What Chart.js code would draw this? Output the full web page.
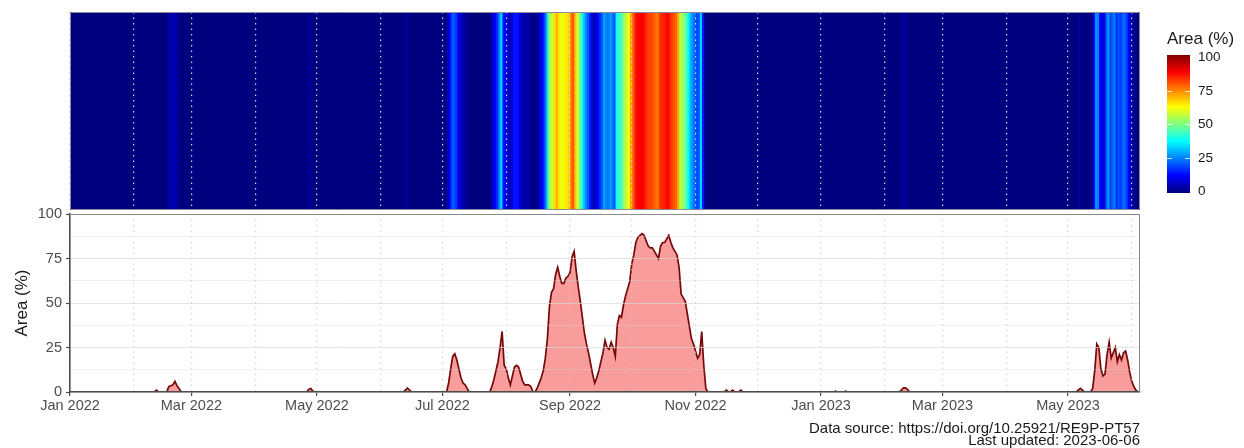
<!DOCTYPE html>
<html>
<head>
<meta charset="utf-8">
<script src="https://cdn.jsdelivr.net/npm/chart.js@4.4.0/dist/chart.umd.min.js"></script>
<style>
	html, body { margin: 0; padding: 0; background: #fff; }
	body { width: 1244px; height: 448px; position: relative; overflow: hidden; font-family: "Liberation Sans", Arial, sans-serif; color: #1a1a1a; }
	.layer { position: absolute; left: 0; top: 0; }
	#legend-title { position: absolute; left: 1167px; top: 29px; font-size: 17px; line-height: 20px; white-space: nowrap; }
	#legend-bar { position: absolute; left: 1167px; top: 55px; width: 23px; height: 138px; }
	.legend-tick { position: absolute; width: 5px; height: 1px; background: rgba(255,255,255,0.8); }
	.legend-label { position: absolute; left: 1198px; font-size: 13.5px; line-height: 16px; color: #1a1a1a; }
	#caption { position: absolute; right: 104px; top: 422px; font-size: 15px; line-height: 12.4px; text-align: right; white-space: nowrap; }
</style>
</head>
<body>
<canvas id="heat" class="layer" width="1244" height="448"></canvas>
<canvas id="area" class="layer" width="1244" height="448"></canvas>
<div id="legend-title">Area (%)</div>
<div id="legend-bar"></div>
<div id="caption"></div>
<script>
(function() {
	'use strict';

	// day 0 = 2022-01-01, last day = 2023-06-05
	const firstDate = [2022, 0, 1];
	const totalDays = 521;

	// non-zero stretches, values in %
	const episodeStart = [42, 47, 116, 163, 183, 204, 226, 319, 322, 326, 372, 377, 404, 490, 496];
	const episodeValues = [
		[1],
		[0, 3, 3.5, 4, 6, 3.5, 2, 0],
		[1.5, 2, 0.5],
		[1, 2.3, 1],
		[0, 5, 13, 20, 21.5, 18, 13, 8, 5, 4, 2, 0],
		[0, 3, 7, 12, 17, 25, 34, 15, 13, 8, 4, 9, 14, 15, 14, 10, 6, 4, 4, 4, 3, 0, 0],
		[0, 2, 5, 8, 12, 19, 30, 48, 56, 58, 66, 70, 65, 61, 61, 64, 65, 67, 76, 79,
		 68, 59, 51, 42, 33, 27, 22, 16, 10, 5, 8, 12, 17, 22, 29, 25, 24, 28, 25, 20,
		 38, 43, 42, 49, 54, 58, 62, 72, 77, 84, 87, 88, 89, 88, 85, 82, 81, 81, 79, 77,
		 75, 82, 84, 84, 86, 88, 84, 81, 79, 77, 70, 55, 53, 51, 44, 37, 30, 27, 23, 19,
		 21, 34, 15, 2, 0],
		[1],
		[1],
		[1],
		[0.5],
		[0.5],
		[1, 2.3, 2.3, 1.5],
		[1, 2, 1],
		[0, 2, 12, 27, 25, 13, 9, 10, 21, 28, 19, 22, 25, 17, 21, 18, 22, 23, 18, 11, 6, 3, 1, 0]
	];

	const xTickLabels = ['Jan 2022', 'Mar 2022', 'May 2022', 'Jul 2022', 'Sep 2022', 'Nov 2022', 'Jan 2023', 'Mar 2023', 'May 2023'];
	const yTicks = [0, 12.5, 25, 37.5, 50, 62.5, 75, 87.5, 100];
	const legendTicks = [0, 25, 50, 75, 100];
	const jetStops = ['#00007F', '#0000FF', '#007FFF', '#00FFFF', '#7FFF7F', '#FFFF00', '#FF7F00', '#FF0000', '#7F0000'];
	const captionLines = ['Data source: https://doi.org/10.25921/RE9P-PT57', 'Last updated: 2023-06-06'];

	Chart.defaults.font.family = '"Liberation Sans", Arial, sans-serif';

	const daily = new Array(totalDays).fill(0);
	episodeStart.forEach((s, k) => {
		episodeValues[k].forEach((v, j) => { daily[s + j] = v; });
	});

	// month starts as day offsets
	const t0 = Date.UTC(firstDate[0], firstDate[1], firstDate[2]);
	const monthStarts = [];
	const labelFor = {};
	for (let m = 0; m < 18; m++) {
		const d = Math.round((Date.UTC(2022, m, 1) - t0) / 86400000);
		monthStarts.push(d);
		if (m % 2 === 0) labelFor[d] = xTickLabels[m / 2];
	}

	function hexToRgb(h) {
		return [parseInt(h.slice(1, 3), 16), parseInt(h.slice(3, 5), 16), parseInt(h.slice(5, 7), 16)];
	}
	function jet(t) {
		t = Math.max(0, Math.min(1, t));
		const p = t * (jetStops.length - 1);
		const i = Math.min(jetStops.length - 2, Math.floor(p));
		const f = p - i;
		const a = hexToRgb(jetStops[i]), b = hexToRgb(jetStops[i + 1]);
		const c = a.map((v, k) => Math.round(v + (b[k] - v) * f));
		return 'rgb(' + c.join(',') + ')';
	}

	const panelBox = {
		id: 'panelBox',
		afterDraw(chart, args, opts) {
			const a = chart.chartArea, ctx = chart.ctx;
			ctx.save();
			ctx.strokeStyle = opts.color || '#8a8a8a';
			ctx.lineWidth = 1;
			ctx.beginPath();
			if (opts.full) {
				ctx.rect(a.left + 0.5, a.top + 0.5, a.right - a.left - 1, a.bottom - a.top - 1);
			} else {
				ctx.moveTo(a.left, a.top + 0.5);
				ctx.lineTo(a.right - 0.5, a.top + 0.5);
				ctx.lineTo(a.right - 0.5, a.bottom);
			}
			ctx.stroke();
			ctx.restore();
		}
	};

	// top panel: one coloured column per day
	new Chart(document.getElementById('heat'), {
		type: 'bar',
		data: {
			datasets: [{
				data: daily.map((v, d) => ({ x: d, y: 1 })),
				backgroundColor: daily.map(v => jet(v / 100)),
				borderWidth: 0,
				barThickness: 3
			}]
		},
		options: {
			responsive: false,
			animation: false,
			events: [],
			layout: { padding: { left: 70, right: 104, top: 12, bottom: 238 } },
			plugins: { legend: { display: false }, tooltip: { enabled: false }, panelBox: { full: true, color: '#8a8a9a' } },
			scales: {
				x: {
					type: 'linear', min: 0, max: 520, offset: false,
					afterBuildTicks: s => { s.ticks = monthStarts.map(v => ({ value: v })); },
					afterFit: s => { s.height = 0; },
					ticks: { display: false },
					grid: { offset: false, drawTicks: false, color: '#d4d4dc', lineWidth: 1.2, z: 1 },
					border: { display: false, dash: [1.5, 4] }
				},
				y: { display: false, min: 0, max: 1 }
			}
		},
		plugins: [panelBox]
	});

	// bottom panel: area chart
	new Chart(document.getElementById('area'), {
		type: 'line',
		data: {
			datasets: [{
				data: daily.map((v, d) => ({ x: d, y: v })),
				borderColor: '#760808',
				borderWidth: 1.7,
				backgroundColor: '#f99c9c',
				fill: 'origin',
				pointRadius: 0,
				tension: 0
			}]
		},
		options: {
			responsive: false,
			animation: false,
			events: [],
			layout: { padding: { left: 0, right: 104, top: 214, bottom: 0 } },
			plugins: { legend: { display: false }, tooltip: { enabled: false }, panelBox: { full: false, color: '#8a8a8a' } },
			scales: {
				x: {
					type: 'linear', min: 0, max: 520,
					afterBuildTicks: s => { s.ticks = monthStarts.map(v => ({ value: v })); },
					afterFit: s => { s.height = 56; },
					ticks: {
						autoSkip: false, maxRotation: 0, padding: 1, color: '#4d4d4d', font: { size: 14.5 }, z: 1,
						callback: v => labelFor[v] || ''
					},
					grid: {
						color: 'rgba(200,200,200,0.75)', lineWidth: 1.2, tickLength: 4, tickWidth: 1.2, z: 1,
						tickColor: c => (c.tick && labelFor[c.tick.value] !== undefined) ? '#4d4d4d' : 'rgba(0,0,0,0)'
					},
					border: { display: true, color: '#4d4d4d', width: 1.6, dash: [1.5, 4], z: 2 }
				},
				y: {
					min: 0, max: 100,
					afterBuildTicks: s => { s.ticks = yTicks.map(v => ({ value: v })); },
					afterFit: s => { s.width = 70; },
					ticks: {
						padding: 4, color: '#4d4d4d', font: { size: 14.5 }, z: 1,
						callback: v => (v % 25 === 0 ? v : '')
					},
					grid: {
						z: 1, tickLength: 4, tickWidth: 1.2,
						color: c => (c.tick && c.tick.value % 25 !== 0) ? 'rgba(215,215,215,0.35)' : 'rgba(215,215,215,0.7)',
						tickColor: c => (c.tick && c.tick.value % 25 !== 0) ? 'rgba(0,0,0,0)' : '#4d4d4d'
					},
					border: { display: true, color: '#4d4d4d', width: 1.6, z: 2 },
					title: { display: true, text: 'Area (%)', color: '#1a1a1a', font: { size: 17 }, padding: { top: 12, bottom: 0 } }
				}
			}
		},
		plugins: [panelBox]
	});

	// colour bar legend
	const bar = document.getElementById('legend-bar');
	bar.style.background = 'linear-gradient(to top, ' + jetStops.map((c, i) => c + ' ' + (i * 100 / (jetStops.length - 1)) + '%').join(', ') + ')';
	const labelY = v => 191 - v * 1.34;
	legendTicks.forEach(v => {
		const lab = document.createElement('div');
		lab.className = 'legend-label';
		lab.textContent = v;
		lab.style.top = (labelY(v) - 8) + 'px';
		document.body.appendChild(lab);
		if (v > 0 && v < 100) {
			['0px', '18px'].forEach(left => {
				const t = document.createElement('div');
				t.className = 'legend-tick';
				t.style.left = left;
				t.style.top = (labelY(v) - 55) + 'px';
				bar.appendChild(t);
			});
		}
	});

	document.getElementById('caption').innerHTML = captionLines.map(s => '<div>' + s + '</div>').join('');
})();
</script>
</body>
</html>
